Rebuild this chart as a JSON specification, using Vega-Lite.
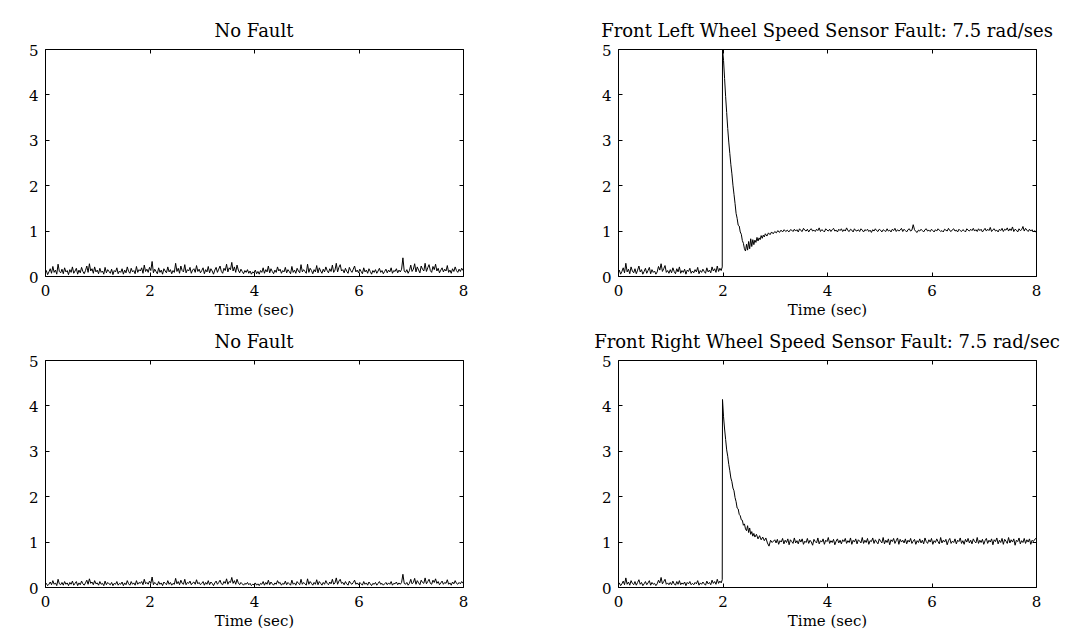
{
"$schema": "https://vega.github.io/schema/vega-lite/v6.json",
"background": "white",
"padding": {"left": 27, "top": 22, "right": 0, "bottom": 0},
"autosize": {"type": "pad"},
"datasets": {
"nf1": [
{"t":0,"v":0.05},{"t":0.025,"v":0.12},{"t":0.05,"v":0.03},{"t":0.075,"v":0.09},{"t":0.1,"v":0.16},{"t":0.125,"v":0.06},{"t":0.15,"v":0.21},{"t":0.175,"v":0.08},{"t":0.2,"v":0.13},{"t":0.225,"v":0.04},
{"t":0.25,"v":0.26},{"t":0.275,"v":0.1},{"t":0.3,"v":0.07},{"t":0.325,"v":0.15},{"t":0.35,"v":0.05},{"t":0.375,"v":0.18},{"t":0.4,"v":0.09},{"t":0.425,"v":0.12},{"t":0.45,"v":0.03},{"t":0.475,"v":0.14},
{"t":0.5,"v":0.08},{"t":0.525,"v":0.2},{"t":0.55,"v":0.06},{"t":0.575,"v":0.11},{"t":0.6,"v":0.17},{"t":0.625,"v":0.04},{"t":0.65,"v":0.13},{"t":0.675,"v":0.07},{"t":0.7,"v":0.19},{"t":0.725,"v":0.1},
{"t":0.75,"v":0.05},{"t":0.775,"v":0.12},{"t":0.8,"v":0.22},{"t":0.825,"v":0.08},{"t":0.85,"v":0.27},{"t":0.875,"v":0.11},{"t":0.9,"v":0.16},{"t":0.925,"v":0.06},{"t":0.95,"v":0.2},{"t":0.975,"v":0.09},
{"t":1,"v":0.13},{"t":1.025,"v":0.05},{"t":1.05,"v":0.17},{"t":1.075,"v":0.08},{"t":1.1,"v":0.11},{"t":1.125,"v":0.04},{"t":1.15,"v":0.19},{"t":1.175,"v":0.07},{"t":1.2,"v":0.14},{"t":1.225,"v":0.1},
{"t":1.25,"v":0.06},{"t":1.275,"v":0.15},{"t":1.3,"v":0.03},{"t":1.325,"v":0.12},{"t":1.35,"v":0.09},{"t":1.375,"v":0.18},{"t":1.4,"v":0.05},{"t":1.425,"v":0.11},{"t":1.45,"v":0.08},{"t":1.475,"v":0.16},
{"t":1.5,"v":0.04},{"t":1.525,"v":0.13},{"t":1.55,"v":0.07},{"t":1.575,"v":0.2},{"t":1.6,"v":0.1},{"t":1.625,"v":0.06},{"t":1.65,"v":0.17},{"t":1.675,"v":0.09},{"t":1.7,"v":0.12},{"t":1.725,"v":0.05},
{"t":1.75,"v":0.21},{"t":1.775,"v":0.08},{"t":1.8,"v":0.14},{"t":1.825,"v":0.11},{"t":1.85,"v":0.18},{"t":1.875,"v":0.06},{"t":1.9,"v":0.24},{"t":1.925,"v":0.1},{"t":1.95,"v":0.15},{"t":1.975,"v":0.08},
{"t":2,"v":0.19},{"t":2.025,"v":0.12},{"t":2.05,"v":0.32},{"t":2.075,"v":0.07},{"t":2.1,"v":0.15},{"t":2.125,"v":0.1},{"t":2.15,"v":0.05},{"t":2.175,"v":0.18},{"t":2.2,"v":0.08},{"t":2.225,"v":0.13},
{"t":2.25,"v":0.04},{"t":2.275,"v":0.16},{"t":2.3,"v":0.11},{"t":2.325,"v":0.07},{"t":2.35,"v":0.2},{"t":2.375,"v":0.09},{"t":2.4,"v":0.14},{"t":2.425,"v":0.05},{"t":2.45,"v":0.12},{"t":2.475,"v":0.08},
{"t":2.5,"v":0.28},{"t":2.525,"v":0.1},{"t":2.55,"v":0.17},{"t":2.575,"v":0.06},{"t":2.6,"v":0.22},{"t":2.625,"v":0.12},{"t":2.65,"v":0.09},{"t":2.675,"v":0.25},{"t":2.7,"v":0.07},{"t":2.725,"v":0.14},
{"t":2.75,"v":0.11},{"t":2.775,"v":0.19},{"t":2.8,"v":0.06},{"t":2.825,"v":0.13},{"t":2.85,"v":0.16},{"t":2.875,"v":0.08},{"t":2.9,"v":0.23},{"t":2.925,"v":0.1},{"t":2.95,"v":0.15},{"t":2.975,"v":0.07},
{"t":3,"v":0.12},{"t":3.025,"v":0.18},{"t":3.05,"v":0.05},{"t":3.075,"v":0.14},{"t":3.1,"v":0.09},{"t":3.125,"v":0.21},{"t":3.15,"v":0.07},{"t":3.175,"v":0.16},{"t":3.2,"v":0.11},{"t":3.225,"v":0.04},
{"t":3.25,"v":0.13},{"t":3.275,"v":0.19},{"t":3.3,"v":0.08},{"t":3.325,"v":0.15},{"t":3.35,"v":0.22},{"t":3.375,"v":0.1},{"t":3.4,"v":0.06},{"t":3.425,"v":0.17},{"t":3.45,"v":0.12},{"t":3.475,"v":0.26},
{"t":3.5,"v":0.09},{"t":3.525,"v":0.18},{"t":3.55,"v":0.14},{"t":3.575,"v":0.3},{"t":3.6,"v":0.11},{"t":3.625,"v":0.2},{"t":3.65,"v":0.08},{"t":3.675,"v":0.24},{"t":3.7,"v":0.13},{"t":3.725,"v":0.07},
{"t":3.75,"v":0.15},{"t":3.775,"v":0.1},{"t":3.8,"v":0.05},{"t":3.825,"v":0.12},{"t":3.85,"v":0.08},{"t":3.875,"v":0.14},{"t":3.9,"v":0.06},{"t":3.925,"v":0.11},{"t":3.95,"v":0.04},{"t":3.975,"v":0.09},
{"t":4,"v":0.07},{"t":4.025,"v":0.13},{"t":4.05,"v":0.05},{"t":4.075,"v":0.1},{"t":4.1,"v":0.04},{"t":4.125,"v":0.12},{"t":4.15,"v":0.08},{"t":4.175,"v":0.18},{"t":4.2,"v":0.06},{"t":4.225,"v":0.14},
{"t":4.25,"v":0.09},{"t":4.275,"v":0.22},{"t":4.3,"v":0.07},{"t":4.325,"v":0.16},{"t":4.35,"v":0.1},{"t":4.375,"v":0.05},{"t":4.4,"v":0.13},{"t":4.425,"v":0.08},{"t":4.45,"v":0.2},{"t":4.475,"v":0.11},
{"t":4.5,"v":0.15},{"t":4.525,"v":0.06},{"t":4.55,"v":0.12},{"t":4.575,"v":0.09},{"t":4.6,"v":0.19},{"t":4.625,"v":0.07},{"t":4.65,"v":0.14},{"t":4.675,"v":0.1},{"t":4.7,"v":0.05},{"t":4.725,"v":0.21},
{"t":4.75,"v":0.08},{"t":4.775,"v":0.13},{"t":4.8,"v":0.06},{"t":4.825,"v":0.17},{"t":4.85,"v":0.11},{"t":4.875,"v":0.07},{"t":4.9,"v":0.25},{"t":4.925,"v":0.09},{"t":4.95,"v":0.14},{"t":4.975,"v":0.1},
{"t":5,"v":0.06},{"t":5.025,"v":0.26},{"t":5.05,"v":0.08},{"t":5.075,"v":0.17},{"t":5.1,"v":0.12},{"t":5.125,"v":0.05},{"t":5.15,"v":0.14},{"t":5.175,"v":0.09},{"t":5.2,"v":0.23},{"t":5.225,"v":0.07},
{"t":5.25,"v":0.18},{"t":5.275,"v":0.11},{"t":5.3,"v":0.06},{"t":5.325,"v":0.15},{"t":5.35,"v":0.09},{"t":5.375,"v":0.2},{"t":5.4,"v":0.12},{"t":5.425,"v":0.07},{"t":5.45,"v":0.16},{"t":5.475,"v":0.1},
{"t":5.5,"v":0.24},{"t":5.525,"v":0.08},{"t":5.55,"v":0.13},{"t":5.575,"v":0.28},{"t":5.6,"v":0.09},{"t":5.625,"v":0.19},{"t":5.65,"v":0.25},{"t":5.675,"v":0.11},{"t":5.7,"v":0.14},{"t":5.725,"v":0.07},
{"t":5.75,"v":0.17},{"t":5.775,"v":0.1},{"t":5.8,"v":0.06},{"t":5.825,"v":0.19},{"t":5.85,"v":0.12},{"t":5.875,"v":0.08},{"t":5.9,"v":0.15},{"t":5.925,"v":0.22},{"t":5.95,"v":0.09},{"t":5.975,"v":0.13},
{"t":6,"v":0.07},{"t":6.025,"v":0.15},{"t":6.05,"v":0.1},{"t":6.075,"v":0.05},{"t":6.1,"v":0.18},{"t":6.125,"v":0.09},{"t":6.15,"v":0.13},{"t":6.175,"v":0.06},{"t":6.2,"v":0.16},{"t":6.225,"v":0.1},
{"t":6.25,"v":0.04},{"t":6.275,"v":0.12},{"t":6.3,"v":0.08},{"t":6.325,"v":0.14},{"t":6.35,"v":0.06},{"t":6.375,"v":0.11},{"t":6.4,"v":0.17},{"t":6.425,"v":0.08},{"t":6.45,"v":0.12},{"t":6.475,"v":0.05},
{"t":6.5,"v":0.1},{"t":6.525,"v":0.15},{"t":6.55,"v":0.07},{"t":6.575,"v":0.13},{"t":6.6,"v":0.09},{"t":6.625,"v":0.18},{"t":6.65,"v":0.06},{"t":6.675,"v":0.12},{"t":6.7,"v":0.1},{"t":6.725,"v":0.16},
{"t":6.75,"v":0.07},{"t":6.775,"v":0.13},{"t":6.8,"v":0.09},{"t":6.825,"v":0.15},{"t":6.85,"v":0.4},{"t":6.875,"v":0.11},{"t":6.9,"v":0.08},{"t":6.925,"v":0.14},{"t":6.95,"v":0.06},{"t":6.975,"v":0.12},
{"t":7,"v":0.24},{"t":7.025,"v":0.1},{"t":7.05,"v":0.15},{"t":7.075,"v":0.27},{"t":7.1,"v":0.09},{"t":7.125,"v":0.2},{"t":7.15,"v":0.13},{"t":7.175,"v":0.07},{"t":7.2,"v":0.22},{"t":7.225,"v":0.15},
{"t":7.25,"v":0.11},{"t":7.275,"v":0.28},{"t":7.3,"v":0.1},{"t":7.325,"v":0.18},{"t":7.35,"v":0.25},{"t":7.375,"v":0.12},{"t":7.4,"v":0.08},{"t":7.425,"v":0.21},{"t":7.45,"v":0.14},{"t":7.475,"v":0.26},
{"t":7.5,"v":0.11},{"t":7.525,"v":0.17},{"t":7.55,"v":0.07},{"t":7.575,"v":0.13},{"t":7.6,"v":0.18},{"t":7.625,"v":0.09},{"t":7.65,"v":0.15},{"t":7.675,"v":0.11},{"t":7.7,"v":0.23},{"t":7.725,"v":0.08},
{"t":7.75,"v":0.13},{"t":7.775,"v":0.06},{"t":7.8,"v":0.16},{"t":7.825,"v":0.1},{"t":7.85,"v":0.2},{"t":7.875,"v":0.12},{"t":7.9,"v":0.08},{"t":7.925,"v":0.15},{"t":7.95,"v":0.1},{"t":7.975,"v":0.17},
{"t":8,"v":0.12}
],
"fl": [
{"t":0,"v":0.06},{"t":0.025,"v":0.13},{"t":0.05,"v":0.04},{"t":0.075,"v":0.1},{"t":0.1,"v":0.18},{"t":0.125,"v":0.07},{"t":0.15,"v":0.28},{"t":0.175,"v":0.09},{"t":0.2,"v":0.15},{"t":0.225,"v":0.05},
{"t":0.25,"v":0.2},{"t":0.275,"v":0.11},{"t":0.3,"v":0.07},{"t":0.325,"v":0.16},{"t":0.35,"v":0.05},{"t":0.375,"v":0.13},{"t":0.4,"v":0.22},{"t":0.425,"v":0.09},{"t":0.45,"v":0.14},{"t":0.475,"v":0.04},
{"t":0.5,"v":0.1},{"t":0.525,"v":0.17},{"t":0.55,"v":0.06},{"t":0.575,"v":0.12},{"t":0.6,"v":0.19},{"t":0.625,"v":0.05},{"t":0.65,"v":0.14},{"t":0.675,"v":0.08},{"t":0.7,"v":0.11},{"t":0.725,"v":0.04},
{"t":0.75,"v":0.09},{"t":0.775,"v":0.21},{"t":0.8,"v":0.13},{"t":0.825,"v":0.27},{"t":0.85,"v":0.1},{"t":0.875,"v":0.16},{"t":0.9,"v":0.23},{"t":0.925,"v":0.08},{"t":0.95,"v":0.12},{"t":0.975,"v":0.06},
{"t":1,"v":0.14},{"t":1.025,"v":0.07},{"t":1.05,"v":0.18},{"t":1.075,"v":0.1},{"t":1.1,"v":0.05},{"t":1.125,"v":0.16},{"t":1.15,"v":0.09},{"t":1.175,"v":0.2},{"t":1.2,"v":0.06},{"t":1.225,"v":0.12},
{"t":1.25,"v":0.08},{"t":1.275,"v":0.15},{"t":1.3,"v":0.04},{"t":1.325,"v":0.13},{"t":1.35,"v":0.1},{"t":1.375,"v":0.17},{"t":1.4,"v":0.06},{"t":1.425,"v":0.11},{"t":1.45,"v":0.07},{"t":1.475,"v":0.14},
{"t":1.5,"v":0.09},{"t":1.525,"v":0.19},{"t":1.55,"v":0.05},{"t":1.575,"v":0.12},{"t":1.6,"v":0.08},{"t":1.625,"v":0.15},{"t":1.65,"v":0.1},{"t":1.675,"v":0.06},{"t":1.7,"v":0.18},{"t":1.725,"v":0.09},
{"t":1.75,"v":0.13},{"t":1.775,"v":0.07},{"t":1.8,"v":0.2},{"t":1.825,"v":0.11},{"t":1.85,"v":0.16},{"t":1.875,"v":0.08},{"t":1.9,"v":0.22},{"t":1.925,"v":0.1},{"t":1.95,"v":0.17},{"t":1.975,"v":0.12},
{"t":1.995,"v":0.2},{"t":2,"v":5.0},{"t":2.02,"v":4.75},{"t":2.04,"v":4.35},{"t":2.06,"v":3.95},{"t":2.08,"v":3.6},{"t":2.1,"v":3.25},{"t":2.12,"v":2.95},{"t":2.14,"v":2.7},{"t":2.16,"v":2.45},
{"t":2.18,"v":2.25},{"t":2.2,"v":2.0},{"t":2.22,"v":1.8},{"t":2.24,"v":1.6},{"t":2.26,"v":1.38},{"t":2.28,"v":1.27},{"t":2.3,"v":1.12},{"t":2.32,"v":1.1},{"t":2.34,"v":0.97},{"t":2.36,"v":0.92},
{"t":2.38,"v":0.78},{"t":2.4,"v":0.72},{"t":2.42,"v":0.6},{"t":2.44,"v":0.55},{"t":2.46,"v":0.7},{"t":2.48,"v":0.57},{"t":2.5,"v":0.76},{"t":2.52,"v":0.6},{"t":2.54,"v":0.82},{"t":2.56,"v":0.65},
{"t":2.58,"v":0.8},{"t":2.6,"v":0.69},{"t":2.62,"v":0.79},{"t":2.64,"v":0.74},{"t":2.66,"v":0.85},{"t":2.68,"v":0.77},{"t":2.7,"v":0.84},{"t":2.72,"v":0.8},{"t":2.74,"v":0.89},{"t":2.76,"v":0.83},
{"t":2.78,"v":0.9},{"t":2.8,"v":0.86},{"t":2.82,"v":0.93},{"t":2.85,"v":0.88},{"t":2.88,"v":0.95},{"t":2.91,"v":0.91},{"t":2.94,"v":0.97},{"t":2.97,"v":0.93},{"t":3,"v":0.98},{"t":3.03,"v":0.95},
{"t":3.06,"v":1.0},{"t":3.09,"v":0.96},{"t":3.12,"v":1.01},{"t":3.15,"v":0.97},{"t":3.18,"v":1.02},{"t":3.21,"v":0.98},{"t":3.24,"v":1.01},{"t":3.27,"v":0.97},{"t":3.3,"v":1.02},
{"t":3.325,"v":1.01},{"t":3.35,"v":0.98},{"t":3.375,"v":1.03},{"t":3.4,"v":0.99},{"t":3.425,"v":1.02},{"t":3.45,"v":0.97},{"t":3.475,"v":1.04},{"t":3.5,"v":1.0},{"t":3.525,"v":0.98},{"t":3.55,"v":1.05},
{"t":3.575,"v":1.01},{"t":3.6,"v":0.99},{"t":3.625,"v":1.03},{"t":3.65,"v":0.97},{"t":3.675,"v":1.02},{"t":3.7,"v":1.04},{"t":3.725,"v":0.99},{"t":3.75,"v":1.01},{"t":3.775,"v":0.98},{"t":3.8,"v":1.03},
{"t":3.825,"v":1.0},{"t":3.85,"v":1.06},{"t":3.875,"v":0.98},{"t":3.9,"v":1.02},{"t":3.925,"v":1.0},{"t":3.95,"v":0.97},{"t":3.975,"v":1.04},{"t":4,"v":1.01},{"t":4.025,"v":0.99},{"t":4.05,"v":1.03},
{"t":4.075,"v":0.98},{"t":4.1,"v":1.02},{"t":4.125,"v":1.05},{"t":4.15,"v":0.99},{"t":4.175,"v":1.01},{"t":4.2,"v":0.97},{"t":4.225,"v":1.03},{"t":4.25,"v":1.0},{"t":4.275,"v":1.04},{"t":4.3,"v":0.98},
{"t":4.325,"v":1.02},{"t":4.35,"v":0.99},{"t":4.375,"v":1.06},{"t":4.4,"v":1.0},{"t":4.425,"v":0.98},{"t":4.45,"v":1.03},{"t":4.475,"v":1.01},{"t":4.5,"v":0.97},{"t":4.525,"v":1.04},{"t":4.55,"v":1.0},
{"t":4.575,"v":0.99},{"t":4.6,"v":1.02},{"t":4.625,"v":0.98},{"t":4.65,"v":1.04},{"t":4.675,"v":1.01},{"t":4.7,"v":0.97},{"t":4.725,"v":1.02},{"t":4.75,"v":1.0},{"t":4.775,"v":1.03},{"t":4.8,"v":0.98},
{"t":4.825,"v":1.01},{"t":4.85,"v":0.96},{"t":4.875,"v":1.02},{"t":4.9,"v":0.99},{"t":4.925,"v":1.04},{"t":4.95,"v":1.0},{"t":4.975,"v":0.98},{"t":5,"v":1.03},{"t":5.025,"v":1.01},{"t":5.05,"v":0.97},
{"t":5.075,"v":1.02},{"t":5.1,"v":1.0},{"t":5.125,"v":0.98},{"t":5.15,"v":1.04},{"t":5.175,"v":0.99},{"t":5.2,"v":1.01},{"t":5.225,"v":0.97},{"t":5.25,"v":1.03},{"t":5.275,"v":1.0},{"t":5.3,"v":1.05},
{"t":5.325,"v":0.98},{"t":5.35,"v":1.02},{"t":5.375,"v":0.99},{"t":5.4,"v":1.01},{"t":5.425,"v":1.05},{"t":5.45,"v":0.98},{"t":5.475,"v":1.03},{"t":5.5,"v":1.0},{"t":5.525,"v":0.97},{"t":5.55,"v":1.02},
{"t":5.575,"v":1.04},{"t":5.6,"v":0.99},{"t":5.625,"v":1.01},{"t":5.65,"v":1.13},{"t":5.675,"v":1.02},{"t":5.7,"v":0.98},{"t":5.725,"v":0.96},{"t":5.75,"v":1.01},{"t":5.775,"v":0.99},{"t":5.8,"v":1.03},
{"t":5.825,"v":1.0},{"t":5.85,"v":0.97},{"t":5.875,"v":1.02},{"t":5.9,"v":1.04},{"t":5.925,"v":0.99},{"t":5.95,"v":1.01},{"t":5.975,"v":0.98},{"t":6,"v":1.03},{"t":6.025,"v":1.0},{"t":6.05,"v":0.97},
{"t":6.075,"v":1.02},{"t":6.1,"v":0.99},{"t":6.125,"v":1.04},{"t":6.15,"v":1.01},{"t":6.175,"v":0.98},{"t":6.2,"v":1.0},{"t":6.225,"v":0.97},{"t":6.25,"v":1.03},{"t":6.275,"v":1.01},{"t":6.3,"v":0.99},
{"t":6.325,"v":1.05},{"t":6.35,"v":1.0},{"t":6.375,"v":0.98},{"t":6.4,"v":1.02},{"t":6.425,"v":1.04},{"t":6.45,"v":0.99},{"t":6.475,"v":1.01},{"t":6.5,"v":0.97},{"t":6.525,"v":1.03},{"t":6.55,"v":1.0},
{"t":6.575,"v":0.98},{"t":6.6,"v":1.02},{"t":6.625,"v":1.0},{"t":6.65,"v":0.97},{"t":6.675,"v":1.04},{"t":6.7,"v":1.01},{"t":6.725,"v":0.99},{"t":6.75,"v":1.03},{"t":6.775,"v":1.0},{"t":6.8,"v":1.05},
{"t":6.825,"v":0.99},{"t":6.85,"v":1.02},{"t":6.875,"v":0.98},{"t":6.9,"v":1.04},{"t":6.925,"v":1.0},{"t":6.95,"v":1.03},{"t":6.975,"v":0.97},{"t":7,"v":1.01},{"t":7.025,"v":1.05},{"t":7.05,"v":0.99},
{"t":7.075,"v":1.03},{"t":7.1,"v":1.0},{"t":7.125,"v":1.07},{"t":7.15,"v":0.98},{"t":7.175,"v":1.02},{"t":7.2,"v":1.04},{"t":7.225,"v":0.99},{"t":7.25,"v":1.01},{"t":7.275,"v":0.97},{"t":7.3,"v":1.03},
{"t":7.325,"v":1.0},{"t":7.35,"v":1.05},{"t":7.375,"v":0.98},{"t":7.4,"v":1.03},{"t":7.425,"v":1.01},{"t":7.45,"v":1.06},{"t":7.475,"v":0.99},{"t":7.5,"v":1.04},{"t":7.525,"v":1.0},{"t":7.55,"v":1.08},
{"t":7.575,"v":0.98},{"t":7.6,"v":1.03},{"t":7.625,"v":1.01},{"t":7.65,"v":0.97},{"t":7.675,"v":1.04},{"t":7.7,"v":1.0},{"t":7.725,"v":1.02},{"t":7.75,"v":1.09},{"t":7.775,"v":0.99},{"t":7.8,"v":1.05},
{"t":7.825,"v":1.01},{"t":7.85,"v":0.98},{"t":7.875,"v":1.03},{"t":7.9,"v":0.99},{"t":7.925,"v":1.02},{"t":7.95,"v":0.97},{"t":7.975,"v":1.0},{"t":8,"v":0.96}
],
"nf2": [
{"t":0,"v":0.04},{"t":0.025,"v":0.08},{"t":0.05,"v":0.03},{"t":0.075,"v":0.06},{"t":0.1,"v":0.11},{"t":0.125,"v":0.05},{"t":0.15,"v":0.14},{"t":0.175,"v":0.06},{"t":0.2,"v":0.09},{"t":0.225,"v":0.03},
{"t":0.25,"v":0.17},{"t":0.275,"v":0.07},{"t":0.3,"v":0.05},{"t":0.325,"v":0.1},{"t":0.35,"v":0.04},{"t":0.375,"v":0.12},{"t":0.4,"v":0.06},{"t":0.425,"v":0.09},{"t":0.45,"v":0.03},{"t":0.475,"v":0.1},
{"t":0.5,"v":0.06},{"t":0.525,"v":0.13},{"t":0.55,"v":0.04},{"t":0.575,"v":0.08},{"t":0.6,"v":0.12},{"t":0.625,"v":0.03},{"t":0.65,"v":0.09},{"t":0.675,"v":0.05},{"t":0.7,"v":0.13},{"t":0.725,"v":0.07},
{"t":0.75,"v":0.04},{"t":0.775,"v":0.09},{"t":0.8,"v":0.15},{"t":0.825,"v":0.06},{"t":0.85,"v":0.18},{"t":0.875,"v":0.08},{"t":0.9,"v":0.11},{"t":0.925,"v":0.05},{"t":0.95,"v":0.14},{"t":0.975,"v":0.07},
{"t":1,"v":0.09},{"t":1.025,"v":0.04},{"t":1.05,"v":0.12},{"t":1.075,"v":0.06},{"t":1.1,"v":0.08},{"t":1.125,"v":0.03},{"t":1.15,"v":0.13},{"t":1.175,"v":0.05},{"t":1.2,"v":0.1},{"t":1.225,"v":0.07},
{"t":1.25,"v":0.05},{"t":1.275,"v":0.1},{"t":1.3,"v":0.03},{"t":1.325,"v":0.08},{"t":1.35,"v":0.06},{"t":1.375,"v":0.12},{"t":1.4,"v":0.04},{"t":1.425,"v":0.08},{"t":1.45,"v":0.06},{"t":1.475,"v":0.11},
{"t":1.5,"v":0.03},{"t":1.525,"v":0.09},{"t":1.55,"v":0.05},{"t":1.575,"v":0.14},{"t":1.6,"v":0.07},{"t":1.625,"v":0.04},{"t":1.65,"v":0.12},{"t":1.675,"v":0.06},{"t":1.7,"v":0.09},{"t":1.725,"v":0.04},
{"t":1.75,"v":0.14},{"t":1.775,"v":0.06},{"t":1.8,"v":0.1},{"t":1.825,"v":0.08},{"t":1.85,"v":0.12},{"t":1.875,"v":0.05},{"t":1.9,"v":0.17},{"t":1.925,"v":0.07},{"t":1.95,"v":0.1},{"t":1.975,"v":0.06},
{"t":2,"v":0.13},{"t":2.025,"v":0.08},{"t":2.05,"v":0.22},{"t":2.075,"v":0.05},{"t":2.1,"v":0.1},{"t":2.125,"v":0.07},{"t":2.15,"v":0.04},{"t":2.175,"v":0.12},{"t":2.2,"v":0.06},{"t":2.225,"v":0.09},
{"t":2.25,"v":0.03},{"t":2.275,"v":0.11},{"t":2.3,"v":0.08},{"t":2.325,"v":0.05},{"t":2.35,"v":0.14},{"t":2.375,"v":0.06},{"t":2.4,"v":0.1},{"t":2.425,"v":0.04},{"t":2.45,"v":0.08},{"t":2.475,"v":0.06},
{"t":2.5,"v":0.19},{"t":2.525,"v":0.07},{"t":2.55,"v":0.12},{"t":2.575,"v":0.05},{"t":2.6,"v":0.15},{"t":2.625,"v":0.08},{"t":2.65,"v":0.06},{"t":2.675,"v":0.17},{"t":2.7,"v":0.05},{"t":2.725,"v":0.1},
{"t":2.75,"v":0.08},{"t":2.775,"v":0.13},{"t":2.8,"v":0.05},{"t":2.825,"v":0.09},{"t":2.85,"v":0.11},{"t":2.875,"v":0.06},{"t":2.9,"v":0.16},{"t":2.925,"v":0.07},{"t":2.95,"v":0.1},{"t":2.975,"v":0.05},
{"t":3,"v":0.08},{"t":3.025,"v":0.12},{"t":3.05,"v":0.04},{"t":3.075,"v":0.1},{"t":3.1,"v":0.06},{"t":3.125,"v":0.14},{"t":3.15,"v":0.05},{"t":3.175,"v":0.11},{"t":3.2,"v":0.08},{"t":3.225,"v":0.03},
{"t":3.25,"v":0.09},{"t":3.275,"v":0.13},{"t":3.3,"v":0.06},{"t":3.325,"v":0.1},{"t":3.35,"v":0.15},{"t":3.375,"v":0.07},{"t":3.4,"v":0.05},{"t":3.425,"v":0.12},{"t":3.45,"v":0.08},{"t":3.475,"v":0.18},
{"t":3.5,"v":0.06},{"t":3.525,"v":0.12},{"t":3.55,"v":0.1},{"t":3.575,"v":0.21},{"t":3.6,"v":0.08},{"t":3.625,"v":0.14},{"t":3.65,"v":0.06},{"t":3.675,"v":0.17},{"t":3.7,"v":0.09},{"t":3.725,"v":0.05},
{"t":3.75,"v":0.1},{"t":3.775,"v":0.07},{"t":3.8,"v":0.04},{"t":3.825,"v":0.08},{"t":3.85,"v":0.06},{"t":3.875,"v":0.1},{"t":3.9,"v":0.05},{"t":3.925,"v":0.08},{"t":3.95,"v":0.03},{"t":3.975,"v":0.06},
{"t":4,"v":0.05},{"t":4.025,"v":0.09},{"t":4.05,"v":0.04},{"t":4.075,"v":0.07},{"t":4.1,"v":0.03},{"t":4.125,"v":0.08},{"t":4.15,"v":0.06},{"t":4.175,"v":0.12},{"t":4.2,"v":0.04},{"t":4.225,"v":0.1},
{"t":4.25,"v":0.06},{"t":4.275,"v":0.15},{"t":4.3,"v":0.05},{"t":4.325,"v":0.11},{"t":4.35,"v":0.07},{"t":4.375,"v":0.04},{"t":4.4,"v":0.09},{"t":4.425,"v":0.06},{"t":4.45,"v":0.14},{"t":4.475,"v":0.08},
{"t":4.5,"v":0.1},{"t":4.525,"v":0.04},{"t":4.55,"v":0.08},{"t":4.575,"v":0.06},{"t":4.6,"v":0.13},{"t":4.625,"v":0.05},{"t":4.65,"v":0.1},{"t":4.675,"v":0.07},{"t":4.7,"v":0.04},{"t":4.725,"v":0.15},
{"t":4.75,"v":0.06},{"t":4.775,"v":0.09},{"t":4.8,"v":0.04},{"t":4.825,"v":0.12},{"t":4.85,"v":0.08},{"t":4.875,"v":0.05},{"t":4.9,"v":0.17},{"t":4.925,"v":0.06},{"t":4.95,"v":0.1},{"t":4.975,"v":0.07},
{"t":5,"v":0.04},{"t":5.025,"v":0.18},{"t":5.05,"v":0.06},{"t":5.075,"v":0.12},{"t":5.1,"v":0.08},{"t":5.125,"v":0.04},{"t":5.15,"v":0.1},{"t":5.175,"v":0.06},{"t":5.2,"v":0.16},{"t":5.225,"v":0.05},
{"t":5.25,"v":0.12},{"t":5.275,"v":0.08},{"t":5.3,"v":0.04},{"t":5.325,"v":0.1},{"t":5.35,"v":0.06},{"t":5.375,"v":0.14},{"t":5.4,"v":0.08},{"t":5.425,"v":0.05},{"t":5.45,"v":0.11},{"t":5.475,"v":0.07},
{"t":5.5,"v":0.17},{"t":5.525,"v":0.06},{"t":5.55,"v":0.09},{"t":5.575,"v":0.2},{"t":5.6,"v":0.06},{"t":5.625,"v":0.13},{"t":5.65,"v":0.17},{"t":5.675,"v":0.08},{"t":5.7,"v":0.1},{"t":5.725,"v":0.05},
{"t":5.75,"v":0.12},{"t":5.775,"v":0.07},{"t":5.8,"v":0.04},{"t":5.825,"v":0.13},{"t":5.85,"v":0.08},{"t":5.875,"v":0.06},{"t":5.9,"v":0.1},{"t":5.925,"v":0.15},{"t":5.95,"v":0.06},{"t":5.975,"v":0.09},
{"t":6,"v":0.05},{"t":6.025,"v":0.1},{"t":6.05,"v":0.07},{"t":6.075,"v":0.04},{"t":6.1,"v":0.12},{"t":6.125,"v":0.06},{"t":6.15,"v":0.09},{"t":6.175,"v":0.04},{"t":6.2,"v":0.11},{"t":6.225,"v":0.07},
{"t":6.25,"v":0.03},{"t":6.275,"v":0.08},{"t":6.3,"v":0.06},{"t":6.325,"v":0.1},{"t":6.35,"v":0.04},{"t":6.375,"v":0.08},{"t":6.4,"v":0.12},{"t":6.425,"v":0.06},{"t":6.45,"v":0.08},{"t":6.475,"v":0.04},
{"t":6.5,"v":0.07},{"t":6.525,"v":0.1},{"t":6.55,"v":0.05},{"t":6.575,"v":0.09},{"t":6.6,"v":0.06},{"t":6.625,"v":0.12},{"t":6.65,"v":0.04},{"t":6.675,"v":0.08},{"t":6.7,"v":0.07},{"t":6.725,"v":0.11},
{"t":6.75,"v":0.05},{"t":6.775,"v":0.09},{"t":6.8,"v":0.06},{"t":6.825,"v":0.1},{"t":6.85,"v":0.28},{"t":6.875,"v":0.08},{"t":6.9,"v":0.06},{"t":6.925,"v":0.1},{"t":6.95,"v":0.04},{"t":6.975,"v":0.08},
{"t":7,"v":0.17},{"t":7.025,"v":0.07},{"t":7.05,"v":0.1},{"t":7.075,"v":0.19},{"t":7.1,"v":0.06},{"t":7.125,"v":0.14},{"t":7.15,"v":0.09},{"t":7.175,"v":0.05},{"t":7.2,"v":0.15},{"t":7.225,"v":0.1},
{"t":7.25,"v":0.08},{"t":7.275,"v":0.2},{"t":7.3,"v":0.07},{"t":7.325,"v":0.12},{"t":7.35,"v":0.17},{"t":7.375,"v":0.08},{"t":7.4,"v":0.06},{"t":7.425,"v":0.15},{"t":7.45,"v":0.1},{"t":7.475,"v":0.18},
{"t":7.5,"v":0.08},{"t":7.525,"v":0.12},{"t":7.55,"v":0.05},{"t":7.575,"v":0.09},{"t":7.6,"v":0.13},{"t":7.625,"v":0.06},{"t":7.65,"v":0.1},{"t":7.675,"v":0.08},{"t":7.7,"v":0.16},{"t":7.725,"v":0.06},
{"t":7.75,"v":0.09},{"t":7.775,"v":0.04},{"t":7.8,"v":0.11},{"t":7.825,"v":0.07},{"t":7.85,"v":0.14},{"t":7.875,"v":0.08},{"t":7.9,"v":0.06},{"t":7.925,"v":0.1},{"t":7.95,"v":0.07},{"t":7.975,"v":0.12},
{"t":8,"v":0.08}
],
"fr": [
{"t":0,"v":0.04},{"t":0.025,"v":0.09},{"t":0.05,"v":0.03},{"t":0.075,"v":0.07},{"t":0.1,"v":0.13},{"t":0.125,"v":0.05},{"t":0.15,"v":0.2},{"t":0.175,"v":0.06},{"t":0.2,"v":0.11},{"t":0.225,"v":0.04},
{"t":0.25,"v":0.14},{"t":0.275,"v":0.08},{"t":0.3,"v":0.05},{"t":0.325,"v":0.12},{"t":0.35,"v":0.04},{"t":0.375,"v":0.1},{"t":0.4,"v":0.16},{"t":0.425,"v":0.06},{"t":0.45,"v":0.1},{"t":0.475,"v":0.03},
{"t":0.5,"v":0.07},{"t":0.525,"v":0.12},{"t":0.55,"v":0.05},{"t":0.575,"v":0.09},{"t":0.6,"v":0.14},{"t":0.625,"v":0.04},{"t":0.65,"v":0.1},{"t":0.675,"v":0.06},{"t":0.7,"v":0.08},{"t":0.725,"v":0.03},
{"t":0.75,"v":0.07},{"t":0.775,"v":0.15},{"t":0.8,"v":0.09},{"t":0.825,"v":0.21},{"t":0.85,"v":0.07},{"t":0.875,"v":0.12},{"t":0.9,"v":0.17},{"t":0.925,"v":0.06},{"t":0.95,"v":0.09},{"t":0.975,"v":0.05},
{"t":1,"v":0.1},{"t":1.025,"v":0.05},{"t":1.05,"v":0.13},{"t":1.075,"v":0.07},{"t":1.1,"v":0.04},{"t":1.125,"v":0.12},{"t":1.15,"v":0.06},{"t":1.175,"v":0.14},{"t":1.2,"v":0.05},{"t":1.225,"v":0.09},
{"t":1.25,"v":0.06},{"t":1.275,"v":0.11},{"t":1.3,"v":0.03},{"t":1.325,"v":0.1},{"t":1.35,"v":0.07},{"t":1.375,"v":0.12},{"t":1.4,"v":0.05},{"t":1.425,"v":0.08},{"t":1.45,"v":0.05},{"t":1.475,"v":0.1},
{"t":1.5,"v":0.07},{"t":1.525,"v":0.14},{"t":1.55,"v":0.04},{"t":1.575,"v":0.09},{"t":1.6,"v":0.06},{"t":1.625,"v":0.11},{"t":1.65,"v":0.07},{"t":1.675,"v":0.04},{"t":1.7,"v":0.13},{"t":1.725,"v":0.07},
{"t":1.75,"v":0.1},{"t":1.775,"v":0.05},{"t":1.8,"v":0.15},{"t":1.825,"v":0.08},{"t":1.85,"v":0.12},{"t":1.875,"v":0.06},{"t":1.9,"v":0.17},{"t":1.925,"v":0.08},{"t":1.95,"v":0.13},{"t":1.975,"v":0.09},
{"t":1.995,"v":0.16},{"t":2,"v":4.13},{"t":2.02,"v":3.75},{"t":2.04,"v":3.48},{"t":2.06,"v":3.25},{"t":2.08,"v":3.02},{"t":2.1,"v":2.88},{"t":2.12,"v":2.7},{"t":2.14,"v":2.56},{"t":2.16,"v":2.4},
{"t":2.18,"v":2.32},{"t":2.2,"v":2.18},{"t":2.22,"v":2.12},{"t":2.24,"v":1.97},{"t":2.26,"v":1.88},{"t":2.28,"v":1.74},{"t":2.3,"v":1.72},{"t":2.32,"v":1.6},{"t":2.34,"v":1.57},{"t":2.36,"v":1.48},
{"t":2.38,"v":1.47},{"t":2.4,"v":1.36},{"t":2.42,"v":1.39},{"t":2.44,"v":1.28},{"t":2.46,"v":1.24},{"t":2.48,"v":1.35},{"t":2.5,"v":1.2},{"t":2.52,"v":1.3},{"t":2.54,"v":1.16},{"t":2.56,"v":1.22},
{"t":2.58,"v":1.12},{"t":2.6,"v":1.18},{"t":2.62,"v":1.1},{"t":2.65,"v":1.16},{"t":2.68,"v":1.06},{"t":2.71,"v":1.13},{"t":2.74,"v":1.04},{"t":2.77,"v":1.1},{"t":2.8,"v":1.02},{"t":2.83,"v":1.08},
{"t":2.86,"v":0.97},{"t":2.89,"v":0.9},{"t":2.92,"v":1.03},{"t":2.95,"v":0.98},{"t":3,"v":1.04},
{"t":3.025,"v":0.97},{"t":3.05,"v":1.05},{"t":3.075,"v":0.94},{"t":3.1,"v":1.02},{"t":3.125,"v":0.99},{"t":3.15,"v":1.07},{"t":3.175,"v":0.95},{"t":3.2,"v":1.03},{"t":3.225,"v":0.98},{"t":3.25,"v":1.06},
{"t":3.275,"v":0.93},{"t":3.3,"v":1.04},{"t":3.325,"v":1.0},{"t":3.35,"v":0.96},{"t":3.375,"v":1.08},{"t":3.4,"v":0.97},{"t":3.425,"v":1.02},{"t":3.45,"v":0.95},{"t":3.475,"v":1.05},{"t":3.5,"v":0.99},
{"t":3.525,"v":1.06},{"t":3.55,"v":0.94},{"t":3.575,"v":1.01},{"t":3.6,"v":0.98},{"t":3.625,"v":1.07},{"t":3.65,"v":0.96},{"t":3.675,"v":1.03},{"t":3.7,"v":0.99},{"t":3.725,"v":0.92},{"t":3.75,"v":1.05},
{"t":3.775,"v":1.0},{"t":3.8,"v":0.97},{"t":3.825,"v":1.08},{"t":3.85,"v":0.95},{"t":3.875,"v":1.02},{"t":3.9,"v":0.99},{"t":3.925,"v":1.06},{"t":3.95,"v":0.94},{"t":3.975,"v":1.03},{"t":4,"v":1.0},
{"t":4.025,"v":1.09},{"t":4.05,"v":0.96},{"t":4.075,"v":1.02},{"t":4.1,"v":0.98},{"t":4.125,"v":1.05},{"t":4.15,"v":0.93},{"t":4.175,"v":1.01},{"t":4.2,"v":1.06},{"t":4.225,"v":0.97},{"t":4.25,"v":1.03},
{"t":4.275,"v":0.95},{"t":4.3,"v":1.04},{"t":4.325,"v":1.0},{"t":4.35,"v":1.07},{"t":4.375,"v":0.96},{"t":4.4,"v":1.02},{"t":4.425,"v":0.98},{"t":4.45,"v":1.08},{"t":4.475,"v":0.94},{"t":4.5,"v":1.03},
{"t":4.525,"v":0.99},{"t":4.55,"v":1.06},{"t":4.575,"v":0.95},{"t":4.6,"v":1.04},{"t":4.625,"v":1.01},{"t":4.65,"v":0.97},{"t":4.675,"v":1.09},{"t":4.7,"v":0.96},{"t":4.725,"v":1.03},{"t":4.75,"v":0.98},
{"t":4.775,"v":1.07},{"t":4.8,"v":0.94},{"t":4.825,"v":1.02},{"t":4.85,"v":1.0},{"t":4.875,"v":1.08},{"t":4.9,"v":0.96},{"t":4.925,"v":1.04},{"t":4.95,"v":0.99},{"t":4.975,"v":0.95},{"t":5,"v":1.06},
{"t":5.025,"v":1.01},{"t":5.05,"v":0.97},{"t":5.075,"v":1.09},{"t":5.1,"v":0.95},{"t":5.125,"v":1.03},{"t":5.15,"v":0.98},{"t":5.175,"v":1.06},{"t":5.2,"v":0.93},{"t":5.225,"v":1.04},{"t":5.25,"v":1.0},
{"t":5.275,"v":1.07},{"t":5.3,"v":0.96},{"t":5.325,"v":1.02},{"t":5.35,"v":1.08},{"t":5.375,"v":0.94},{"t":5.4,"v":1.05},{"t":5.425,"v":0.99},{"t":5.45,"v":1.03},{"t":5.475,"v":0.97},{"t":5.5,"v":1.06},
{"t":5.525,"v":0.95},{"t":5.55,"v":1.03},{"t":5.575,"v":0.99},{"t":5.6,"v":1.07},{"t":5.625,"v":0.96},{"t":5.65,"v":1.01},{"t":5.675,"v":1.05},{"t":5.7,"v":0.94},{"t":5.725,"v":1.02},{"t":5.75,"v":0.98},
{"t":5.775,"v":1.06},{"t":5.8,"v":0.97},{"t":5.825,"v":1.03},{"t":5.85,"v":0.95},{"t":5.875,"v":1.08},{"t":5.9,"v":1.0},{"t":5.925,"v":0.96},{"t":5.95,"v":1.04},{"t":5.975,"v":0.99},{"t":6,"v":1.07},
{"t":6.025,"v":0.94},{"t":6.05,"v":1.02},{"t":6.075,"v":0.98},{"t":6.1,"v":1.06},{"t":6.125,"v":1.0},{"t":6.15,"v":0.95},{"t":6.175,"v":1.09},{"t":6.2,"v":0.97},{"t":6.225,"v":1.03},{"t":6.25,"v":0.99},
{"t":6.275,"v":1.05},{"t":6.3,"v":0.93},{"t":6.325,"v":1.02},{"t":6.35,"v":1.07},{"t":6.375,"v":0.96},{"t":6.4,"v":1.01},{"t":6.425,"v":0.98},{"t":6.45,"v":1.06},{"t":6.475,"v":0.95},{"t":6.5,"v":1.03},
{"t":6.525,"v":1.0},{"t":6.55,"v":1.08},{"t":6.575,"v":0.96},{"t":6.6,"v":1.02},{"t":6.625,"v":0.94},{"t":6.65,"v":1.05},{"t":6.675,"v":0.99},{"t":6.7,"v":1.07},{"t":6.725,"v":0.97},{"t":6.75,"v":1.03},
{"t":6.775,"v":0.95},{"t":6.8,"v":1.06},{"t":6.825,"v":1.0},{"t":6.85,"v":0.97},{"t":6.875,"v":1.09},{"t":6.9,"v":0.96},{"t":6.925,"v":1.03},{"t":6.95,"v":0.98},{"t":6.975,"v":1.05},{"t":7,"v":0.94},
{"t":7.025,"v":1.02},{"t":7.05,"v":1.07},{"t":7.075,"v":0.96},{"t":7.1,"v":1.03},{"t":7.125,"v":0.99},{"t":7.15,"v":1.06},{"t":7.175,"v":0.93},{"t":7.2,"v":1.04},{"t":7.225,"v":1.0},{"t":7.25,"v":1.08},
{"t":7.275,"v":0.95},{"t":7.3,"v":1.03},{"t":7.325,"v":0.98},{"t":7.35,"v":1.07},{"t":7.375,"v":0.94},{"t":7.4,"v":1.05},{"t":7.425,"v":1.01},{"t":7.45,"v":0.96},{"t":7.475,"v":1.09},{"t":7.5,"v":0.97},
{"t":7.525,"v":1.04},{"t":7.55,"v":0.99},{"t":7.575,"v":1.06},{"t":7.6,"v":0.92},{"t":7.625,"v":1.03},{"t":7.65,"v":1.0},{"t":7.675,"v":1.08},{"t":7.7,"v":0.95},{"t":7.725,"v":1.02},{"t":7.75,"v":0.98},
{"t":7.775,"v":1.07},{"t":7.8,"v":0.96},{"t":7.825,"v":1.04},{"t":7.85,"v":0.99},{"t":7.875,"v":1.06},{"t":7.9,"v":0.94},{"t":7.925,"v":1.03},{"t":7.95,"v":1.0},{"t":7.975,"v":1.05},{"t":8,"v":1.07}
]
},
"columns": 2,
"spacing": {"row": 84, "column": 155},
"bounds": "flush",
"concat": [
{"data": {"name": "nf1"}, "width": 418, "height": 227, "title": "No Fault",
 "layer": [
  {"mark": {"type": "line", "color": "black", "strokeWidth": 1, "clip": true},
   "encoding": {
    "x": {"field": "t", "type": "quantitative", "scale": {"domain": [0, 8], "nice": false, "zero": false}, "axis": {"orient": "bottom", "values": [0, 2, 4, 6, 8], "title": "Time (sec)", "tickSize": -4, "labelPadding": 11.5, "titleBaseline": "alphabetic", "titleY": 38.5}},
    "y": {"field": "v", "type": "quantitative", "scale": {"domain": [0, 5], "nice": false, "zero": false}, "axis": {"orient": "left", "values": [0, 1, 2, 3, 4, 5], "title": null, "tickSize": -4, "labelPadding": 11, "labelOffset": 1}}}},
  {"mark": {"type": "line", "opacity": 0},
   "encoding": {
    "x": {"field": "t", "type": "quantitative", "scale": {"domain": [0, 8], "nice": false, "zero": false}, "axis": {"orient": "top", "values": [0, 2, 4, 6, 8], "title": null, "labels": false, "tickSize": -4}},
    "y": {"field": "v", "type": "quantitative", "scale": {"domain": [0, 5], "nice": false, "zero": false}, "axis": {"orient": "right", "values": [0, 1, 2, 3, 4, 5], "title": null, "labels": false, "tickSize": -4}}}}
 ],
 "resolve": {"axis": {"x": "independent", "y": "independent"}}},
{"data": {"name": "fl"}, "width": 418, "height": 227, "title": "Front Left Wheel Speed Sensor Fault: 7.5 rad/ses",
 "layer": [
  {"mark": {"type": "line", "color": "black", "strokeWidth": 1, "clip": true},
   "encoding": {
    "x": {"field": "t", "type": "quantitative", "scale": {"domain": [0, 8], "nice": false, "zero": false}, "axis": {"orient": "bottom", "values": [0, 2, 4, 6, 8], "title": "Time (sec)", "tickSize": -4, "labelPadding": 11.5, "titleBaseline": "alphabetic", "titleY": 38.5}},
    "y": {"field": "v", "type": "quantitative", "scale": {"domain": [0, 5], "nice": false, "zero": false}, "axis": {"orient": "left", "values": [0, 1, 2, 3, 4, 5], "title": null, "tickSize": -4, "labelPadding": 11, "labelOffset": 1}}}},
  {"mark": {"type": "line", "opacity": 0},
   "encoding": {
    "x": {"field": "t", "type": "quantitative", "scale": {"domain": [0, 8], "nice": false, "zero": false}, "axis": {"orient": "top", "values": [0, 2, 4, 6, 8], "title": null, "labels": false, "tickSize": -4}},
    "y": {"field": "v", "type": "quantitative", "scale": {"domain": [0, 5], "nice": false, "zero": false}, "axis": {"orient": "right", "values": [0, 1, 2, 3, 4, 5], "title": null, "labels": false, "tickSize": -4}}}}
 ],
 "resolve": {"axis": {"x": "independent", "y": "independent"}}},
{"data": {"name": "nf2"}, "width": 418, "height": 227, "title": "No Fault",
 "layer": [
  {"mark": {"type": "line", "color": "black", "strokeWidth": 1, "clip": true},
   "encoding": {
    "x": {"field": "t", "type": "quantitative", "scale": {"domain": [0, 8], "nice": false, "zero": false}, "axis": {"orient": "bottom", "values": [0, 2, 4, 6, 8], "title": "Time (sec)", "tickSize": -4, "labelPadding": 11.5, "titleBaseline": "alphabetic", "titleY": 38.5}},
    "y": {"field": "v", "type": "quantitative", "scale": {"domain": [0, 5], "nice": false, "zero": false}, "axis": {"orient": "left", "values": [0, 1, 2, 3, 4, 5], "title": null, "tickSize": -4, "labelPadding": 11, "labelOffset": 1}}}},
  {"mark": {"type": "line", "opacity": 0},
   "encoding": {
    "x": {"field": "t", "type": "quantitative", "scale": {"domain": [0, 8], "nice": false, "zero": false}, "axis": {"orient": "top", "values": [0, 2, 4, 6, 8], "title": null, "labels": false, "tickSize": -4}},
    "y": {"field": "v", "type": "quantitative", "scale": {"domain": [0, 5], "nice": false, "zero": false}, "axis": {"orient": "right", "values": [0, 1, 2, 3, 4, 5], "title": null, "labels": false, "tickSize": -4}}}}
 ],
 "resolve": {"axis": {"x": "independent", "y": "independent"}}},
{"data": {"name": "fr"}, "width": 418, "height": 227, "title": "Front Right Wheel Speed Sensor Fault: 7.5 rad/sec",
 "layer": [
  {"mark": {"type": "line", "color": "black", "strokeWidth": 1, "clip": true},
   "encoding": {
    "x": {"field": "t", "type": "quantitative", "scale": {"domain": [0, 8], "nice": false, "zero": false}, "axis": {"orient": "bottom", "values": [0, 2, 4, 6, 8], "title": "Time (sec)", "tickSize": -4, "labelPadding": 11.5, "titleBaseline": "alphabetic", "titleY": 38.5}},
    "y": {"field": "v", "type": "quantitative", "scale": {"domain": [0, 5], "nice": false, "zero": false}, "axis": {"orient": "left", "values": [0, 1, 2, 3, 4, 5], "title": null, "tickSize": -4, "labelPadding": 11, "labelOffset": 1}}}},
  {"mark": {"type": "line", "opacity": 0},
   "encoding": {
    "x": {"field": "t", "type": "quantitative", "scale": {"domain": [0, 8], "nice": false, "zero": false}, "axis": {"orient": "top", "values": [0, 2, 4, 6, 8], "title": null, "labels": false, "tickSize": -4}},
    "y": {"field": "v", "type": "quantitative", "scale": {"domain": [0, 5], "nice": false, "zero": false}, "axis": {"orient": "right", "values": [0, 1, 2, 3, 4, 5], "title": null, "labels": false, "tickSize": -4}}}}
 ],
 "resolve": {"axis": {"x": "independent", "y": "independent"}}}
],
"config": {
 "view": {"stroke": "black", "strokeWidth": 1},
 "axis": {"domain": false, "grid": false, "tickColor": "black", "tickWidth": 1, "labelColor": "black", "labelFont": "DejaVu Serif", "labelFontSize": 15, "labelFlush": false, "labelOverlap": false, "titleColor": "black", "titleFont": "DejaVu Serif", "titleFontSize": 15, "titleFontWeight": "normal"},
 "title": {"font": "DejaVu Serif", "fontSize": 18, "fontWeight": "normal", "color": "black", "anchor": "middle", "baseline": "alphabetic", "offset": 2}
}
}
